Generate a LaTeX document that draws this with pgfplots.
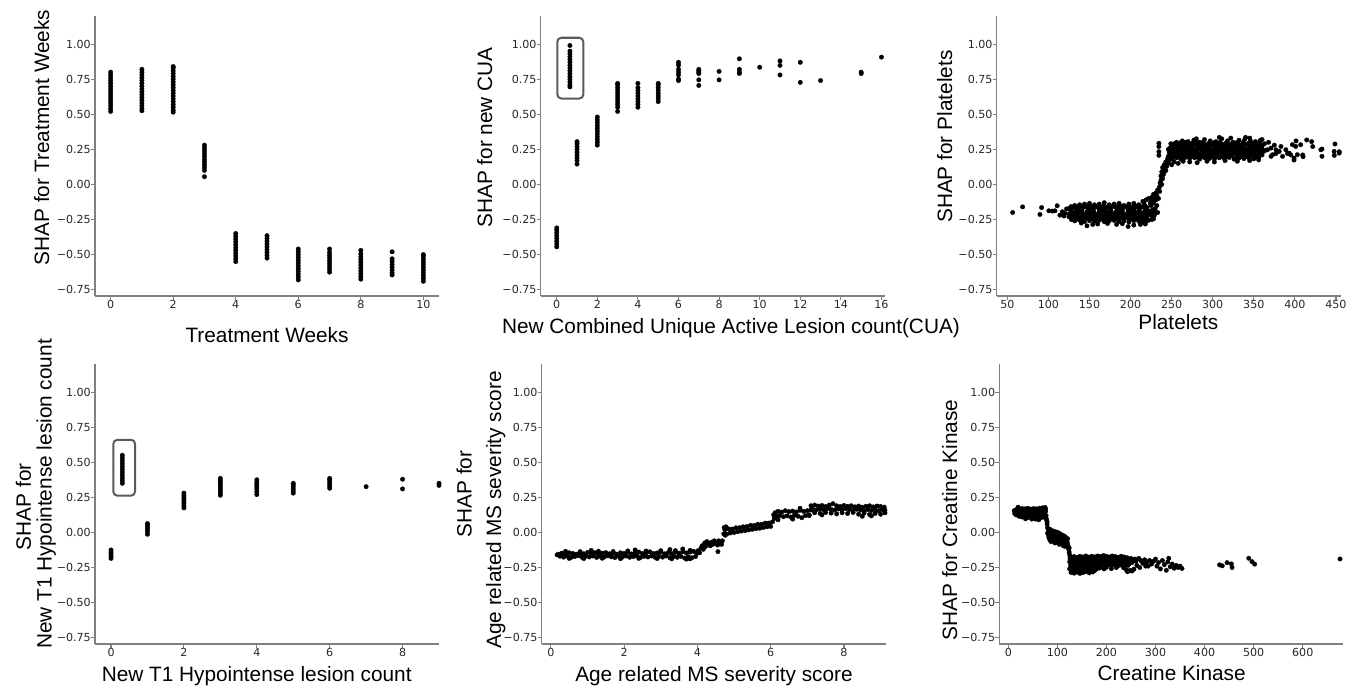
\documentclass[border=0pt]{standalone}
\usepackage{fontspec}
\setmainfont{Liberation Sans}
\newfontfamily\tickfont{DejaVu Sans}
\usepackage{pgfplots}
\pgfplotsset{compat=1.18}
\definecolor{spine}{RGB}{128,128,128}
\definecolor{boxc}{RGB}{90,90,90}
\definecolor{tickc}{RGB}{40,40,40}
\newcommand\labfont{\fontsize{20.8}{21}\selectfont}
\pgfplotsset{
  shap/.style={
    scale only axis, width=344pt, height=280pt, anchor=south west,
    axis x line*=bottom, axis y line*=left,
    axis line style={draw=spine, line width=1.2pt},
    tick style={draw=spine, line width=1.1pt},
    tick align=outside, major tick length=4pt,
    ymin=-0.795, ymax=1.2,
    ytick={-0.75,-0.5,-0.25,0,0.25,0.5,0.75,1},
    yticklabels={−0.75,−0.50,−0.25,0.00,0.25,0.50,0.75,1.00},
    ticklabel style={font=\tickfont\fontsize{11.1}{12}\selectfont, text=tickc},
    xticklabel style={anchor=north, inner sep=0pt},
    yticklabel style={anchor=east, inner sep=0pt},
  },
  dots/.style={only marks, mark=*, mark size=2.25pt, black, mark options={line width=0.3pt}},
}
\begin{document}
\begin{tikzpicture}
\useasboundingbox (0pt,0pt) rectangle (1348pt,686pt);
% Panel 1
\begin{axis}[shap, at={(95pt,390pt)}, xmin=-0.5, xmax=10.5,
  xtick={0,2,4,6,8,10}, xticklabels={0,2,4,6,8,10}]
\addplot[dots] coordinates {
(0,0.52)(0,0.54)(0,0.56)(0,0.58)(0,0.60)(0,0.62)(0,0.64)(0,0.66)(0,0.68)(0,0.70)(0,0.72)(0,0.74)(0,0.76)(0,0.78)(0,0.80)
(1,0.525)(1,0.54)(1,0.56)(1,0.58)(1,0.60)(1,0.62)(1,0.64)(1,0.66)(1,0.68)(1,0.70)(1,0.72)(1,0.74)(1,0.76)(1,0.78)(1,0.80)(1,0.82)
(2,0.515)(2,0.53)(2,0.55)(2,0.57)(2,0.59)(2,0.61)(2,0.63)(2,0.65)(2,0.67)(2,0.69)(2,0.71)(2,0.73)(2,0.75)(2,0.77)(2,0.79)(2,0.81)(2,0.83)(2,0.84)
(3,0.055)(3,0.10)(3,0.12)(3,0.14)(3,0.16)(3,0.18)(3,0.20)(3,0.22)(3,0.24)(3,0.26)(3,0.28)
(4,-0.55)(4,-0.53)(4,-0.51)(4,-0.49)(4,-0.47)(4,-0.45)(4,-0.43)(4,-0.41)(4,-0.39)(4,-0.37)(4,-0.35)
(5,-0.525)(5,-0.505)(5,-0.485)(5,-0.465)(5,-0.445)(5,-0.425)(5,-0.405)(5,-0.385)(5,-0.365)
(6,-0.68)(6,-0.66)(6,-0.64)(6,-0.62)(6,-0.60)(6,-0.58)(6,-0.56)(6,-0.54)(6,-0.52)(6,-0.50)(6,-0.48)(6,-0.46)
(7,-0.625)(7,-0.605)(7,-0.585)(7,-0.565)(7,-0.545)(7,-0.525)(7,-0.505)(7,-0.485)(7,-0.46)
(8,-0.675)(8,-0.655)(8,-0.635)(8,-0.615)(8,-0.595)(8,-0.575)(8,-0.555)(8,-0.535)(8,-0.515)(8,-0.495)(8,-0.47)
(9,-0.48)(9,-0.53)(9,-0.55)(9,-0.57)(9,-0.59)(9,-0.61)(9,-0.63)(9,-0.645)
(10,-0.69)(10,-0.67)(10,-0.65)(10,-0.63)(10,-0.61)(10,-0.59)(10,-0.57)(10,-0.55)(10,-0.53)(10,-0.51)(10,-0.50)
};
\end{axis}
% Panel 2
\begin{axis}[shap, at={(540.7pt,390pt)}, xmin=-0.79, xmax=16.16,
  xtick={0,2,4,6,8,10,12,14,16}, xticklabels={0,2,4,6,8,10,12,14,16}]
\addplot[dots] coordinates {
(0,-0.445)(0,-0.425)(0,-0.405)(0,-0.385)(0,-0.365)(0,-0.345)(0,-0.325)(0,-0.31)
(0.65,0.99)(0.65,0.95)(0.65,0.93)(0.65,0.91)(0.65,0.89)(0.65,0.87)(0.65,0.85)(0.65,0.83)(0.65,0.81)(0.65,0.79)(0.65,0.77)(0.65,0.75)(0.65,0.73)(0.65,0.71)(0.65,0.695)
(1,0.305)(1,0.29)(1,0.27)(1,0.25)(1,0.23)(1,0.21)(1,0.19)(1,0.17)(1,0.145)
(2,0.28)(2,0.30)(2,0.32)(2,0.34)(2,0.36)(2,0.38)(2,0.40)(2,0.42)(2,0.44)(2,0.46)(2,0.48)
(3,0.52)(3,0.55)(3,0.57)(3,0.59)(3,0.61)(3,0.63)(3,0.65)(3,0.67)(3,0.69)(3,0.71)(3,0.72)
(4,0.55)(4,0.57)(4,0.59)(4,0.61)(4,0.63)(4,0.65)(4,0.67)(4,0.69)(4,0.72)
(5,0.59)(5,0.61)(5,0.63)(5,0.65)(5,0.67)(5,0.69)(5,0.71)(5,0.72)
(6,0.74)(6,0.75)(6,0.78)(6,0.80)(6,0.82)(6,0.85)(6,0.87)
(7,0.705)(7,0.745)(7,0.79)(7,0.80)(7,0.81)(7,0.82)
(8,0.745)(8,0.805)
(9,0.79)(9,0.80)(9,0.82)(9,0.895)
(10,0.835)
(11,0.78)(11,0.848)(11,0.88)
(12,0.727)(12,0.87)
(13,0.74)
(15,0.79)(15,0.80)
(16,0.907)
};
\draw[boxc, line width=2pt, rounded corners=4pt] (axis cs:0.03,0.612) rectangle (axis cs:1.31,1.045);
\end{axis}
% Panel 3
\begin{axis}[shap, at={(996.7pt,390pt)}, xmin=37.1, xmax=455.8,
  xtick={50,100,150,200,250,300,350,400,450}, xticklabels={50,100,150,200,250,300,350,400,450}]
\addplot[dots] coordinates {
(56.5,-0.200)(68.6,-0.160)(89.7,-0.214)(91.7,-0.165)(100.6,-0.188)(105,-0.19)(108,-0.188)(110.7,-0.152)(114,-0.219)(117,-0.195)(120,-0.205)(122,-0.175)(119,-0.225)
(132,-0.15)(138,-0.145)(144,-0.14)(150,-0.135)(156,-0.145)(162,-0.14)(168,-0.13)(174,-0.145)(180,-0.14)(186,-0.135)(192,-0.15)(198,-0.14)(204,-0.135)(210,-0.145)(216,-0.13)
(127.5,-0.158)(132.5,-0.16)(137.5,-0.157)(142.5,-0.16)(147.5,-0.155)(152.5,-0.16)(157.5,-0.156)(162.5,-0.16)(167.5,-0.155)(172.5,-0.16)(177.5,-0.156)(182.5,-0.16)(187.5,-0.155)(192.5,-0.16)(197.5,-0.156)(202.5,-0.16)(207.5,-0.155)(212.5,-0.16)(217.5,-0.15)
(125,-0.172)(130,-0.165)(135,-0.178)(140,-0.168)(145,-0.16)(150,-0.175)(155,-0.17)(160,-0.163)(165,-0.18)(170,-0.167)(175,-0.172)(180,-0.158)(185,-0.176)(190,-0.169)(195,-0.162)(200,-0.174)(205,-0.166)(210,-0.171)(215,-0.16)(220,-0.165)(225,-0.15)
(128,-0.187)(134,-0.19)(141,-0.185)(148,-0.188)(155,-0.19)(162,-0.183)(169,-0.19)(176,-0.186)(183,-0.19)(190,-0.184)(197,-0.188)(204,-0.19)(211,-0.186)(218,-0.18)(224,-0.19)
(127,-0.2)(132,-0.205)(137,-0.195)(142,-0.208)(147,-0.198)(152,-0.202)(157,-0.21)(162,-0.196)(167,-0.205)(172,-0.2)(177,-0.208)(182,-0.195)(187,-0.203)(192,-0.21)(197,-0.198)(202,-0.205)(207,-0.2)(212,-0.207)(217,-0.195)(222,-0.19)(227,-0.18)
(125,-0.212)(130,-0.21)(135,-0.213)(140,-0.21)(145,-0.213)(150,-0.21)(155,-0.213)(160,-0.21)(165,-0.213)(170,-0.21)(175,-0.213)(180,-0.21)(185,-0.213)(190,-0.21)(195,-0.213)(200,-0.21)(205,-0.213)(210,-0.21)(215,-0.213)(220,-0.205)(225,-0.2)
(128,-0.218)(135,-0.215)(142,-0.222)(149,-0.216)(156,-0.22)(163,-0.214)(170,-0.222)(177,-0.218)(184,-0.215)(191,-0.222)(198,-0.217)(205,-0.22)(212,-0.215)(219,-0.21)(226,-0.205)
(125,-0.23)(130,-0.235)(135,-0.228)(140,-0.238)(145,-0.232)(150,-0.226)(155,-0.236)(160,-0.23)(165,-0.24)(170,-0.233)(175,-0.227)(180,-0.237)(185,-0.231)(190,-0.24)(195,-0.228)(200,-0.235)(205,-0.23)(210,-0.238)(215,-0.233)(220,-0.225)(225,-0.22)(230,-0.2)
(132.5,-0.242)(137.5,-0.24)(142.5,-0.243)(147.5,-0.24)(152.5,-0.243)(157.5,-0.24)(162.5,-0.243)(167.5,-0.24)(172.5,-0.243)(177.5,-0.24)(182.5,-0.243)(187.5,-0.24)(192.5,-0.243)(197.5,-0.24)(202.5,-0.243)(207.5,-0.24)(212.5,-0.243)(217.5,-0.24)
(129,-0.248)(136,-0.245)(143,-0.25)(150,-0.244)(157,-0.25)(164,-0.246)(171,-0.25)(178,-0.245)(185,-0.25)(192,-0.246)(199,-0.25)(206,-0.245)(213,-0.25)(220,-0.242)
(132,-0.26)(138,-0.255)(144,-0.265)(150,-0.258)(156,-0.262)(162,-0.255)(168,-0.265)(174,-0.26)(180,-0.256)(186,-0.264)(192,-0.26)(198,-0.268)(204,-0.258)(210,-0.262)(216,-0.27)(222,-0.255)(228,-0.245)
(147,-0.295)(160,-0.282)(172,-0.278)(183,-0.285)(190,-0.28)(197,-0.3)(204,-0.29)(212,-0.285)(218,-0.282)(140,-0.275)(128,-0.25)(154,-0.285)
(215,-0.12)(219,-0.11)(222,-0.1)(225,-0.12)(226,-0.09)(228,-0.07)(229,-0.1)(231,-0.06)(232,-0.08)(233,-0.04)(224,-0.135)(228,-0.13)(231,-0.11)(234,-0.1)(232,-0.15)(230,-0.17)(233,-0.2)(229,-0.22)(226,-0.25)(219,-0.26)
(235,-0.02)(236,0.01)(235.5,-0.05)(237,0.03)(237,0.06)(238,0.0)(238,0.09)(239,0.04)(239,0.12)(240,0.07)(240,0.10)(241,0.14)(241,0.09)(242,0.12)(243,0.16)(243,0.10)(244,0.13)(245,0.18)(245,0.15)(246,0.2)(247,0.17)(247,0.23)(248,0.2)(248,0.26)(249,0.29)(246,0.25)
(234.5,0.293)(234.5,0.27)(234.5,0.233)(234.5,0.207)
(256,0.3)(263,0.31)(270,0.305)(277,0.315)(284,0.3)(290,0.32)(297,0.31)(304,0.305)(311,0.325)(318,0.31)(325,0.3)(332,0.315)(339,0.32)(346,0.31)(352,0.305)(358,0.315)
(308,0.335)(322,0.33)(340,0.335)(345,0.33)(280,0.325)
(253,0.29)(260,0.295)(267,0.3)(274,0.29)(281,0.298)(288,0.3)(295,0.293)(302,0.298)(309,0.3)(316,0.295)(323,0.29)(330,0.3)(337,0.298)(344,0.295)(351,0.292)(357,0.3)
(252.5,0.285)(257.5,0.288)(262.5,0.283)(267.5,0.29)(272.5,0.284)(277.5,0.288)(282.5,0.285)(287.5,0.29)(292.5,0.283)(297.5,0.288)(302.5,0.285)(307.5,0.29)(312.5,0.284)(317.5,0.288)(322.5,0.285)(327.5,0.29)(332.5,0.283)(337.5,0.288)(342.5,0.285)(347.5,0.29)(352.5,0.283)(357.5,0.285)
(250,0.27)(255,0.28)(260,0.275)(265,0.285)(270,0.27)(275,0.28)(280,0.275)(285,0.27)(290,0.285)(295,0.275)(300,0.28)(305,0.27)(310,0.285)(315,0.275)(320,0.28)(325,0.27)(330,0.282)(335,0.276)(340,0.285)(345,0.27)(350,0.278)(355,0.265)(360,0.27)
(253,0.26)(260,0.262)(267,0.258)(274,0.265)(281,0.26)(288,0.262)(295,0.258)(302,0.265)(309,0.26)(316,0.262)(323,0.258)(330,0.265)(337,0.26)(344,0.262)(351,0.258)(358,0.255)
(250,0.252)(255,0.255)(260,0.25)(265,0.256)(270,0.252)(275,0.255)(280,0.25)(285,0.256)(290,0.252)(295,0.255)(300,0.25)(305,0.256)(310,0.252)(315,0.255)(320,0.25)(325,0.256)(330,0.252)(335,0.255)(340,0.25)(345,0.256)(350,0.252)(355,0.25)(360,0.248)
(252,0.245)(257,0.25)(262,0.24)(267,0.252)(272,0.245)(277,0.238)(282,0.25)(287,0.244)(292,0.255)(297,0.24)(302,0.248)(307,0.243)(312,0.252)(317,0.24)(322,0.246)(327,0.25)(332,0.238)(337,0.248)(342,0.243)(347,0.25)(352,0.24)(357,0.245)(362,0.235)
(253,0.23)(260,0.228)(267,0.232)(274,0.228)(281,0.233)(288,0.228)(295,0.23)(302,0.233)(309,0.228)(316,0.232)(323,0.23)(330,0.228)(337,0.232)(344,0.23)(351,0.228)(358,0.225)
(252.5,0.222)(257.5,0.225)(262.5,0.22)(267.5,0.226)(272.5,0.222)(277.5,0.225)(282.5,0.22)(287.5,0.226)(292.5,0.222)(297.5,0.225)(302.5,0.22)(307.5,0.226)(312.5,0.222)(317.5,0.225)(322.5,0.22)(327.5,0.226)(332.5,0.222)(337.5,0.225)(342.5,0.22)(347.5,0.226)(352.5,0.222)(357.5,0.22)
(250,0.215)(255,0.22)(260,0.212)(265,0.222)(270,0.215)(275,0.21)(280,0.22)(285,0.213)(290,0.222)(295,0.21)(300,0.218)(305,0.214)(310,0.222)(315,0.21)(320,0.216)(325,0.22)(330,0.212)(335,0.218)(340,0.21)(345,0.22)(350,0.215)(355,0.208)(360,0.21)
(254,0.2)(261,0.2)(268,0.203)(276,0.2)(287,0.2)(299,0.202)(311,0.2)(323,0.205)(335,0.2)(347,0.203)
(253,0.195)(258,0.198)(263,0.195)(270,0.198)(281,0.196)(293,0.198)(305,0.196)(317,0.198)(329,0.196)(341,0.198)(353,0.196)
(251,0.185)(256,0.19)(261,0.182)(266,0.19)(272,0.185)(278,0.19)(284,0.18)(290,0.19)(296,0.185)(302,0.182)(308,0.19)(314,0.185)(320,0.192)(326,0.18)(332,0.188)(338,0.184)(344,0.19)(350,0.182)(356,0.19)
(253,0.16)(258,0.15)(264,0.165)(272,0.16)(281,0.155)(293,0.165)(302,0.16)(315,0.17)(330,0.165)(345,0.17)(356,0.175)(250,0.14)
(365,0.245)(366.8,0.247)(370.9,0.259)(371,0.2)(372.9,0.212)(377,0.247)(377,0.22)(381,0.235)(385,0.2)(389,0.247)(391,0.22)(393,0.223)(395,0.21)(397,0.283)(399,0.174)(399,0.188)(401,0.271)(401.4,0.31)(403,0.212)(407,0.283)(409.5,0.21)(410,0.198)(414.4,0.317)(420.4,0.305)(421.7,0.27)(431.6,0.247)(433,0.2)(433,0.252)(447.8,0.235)(448,0.207)(448.8,0.288)(454,0.223)(454,0.233)(363,0.29)(368,0.3)(375,0.28)(383,0.27)(360,0.32)
};
\end{axis}
% Panel 4
\begin{axis}[shap, at={(95pt,42pt)}, xmin=-0.44, xmax=9.0,
  xtick={0,2,4,6,8}, xticklabels={0,2,4,6,8}]
\addplot[dots] coordinates {
(0,-0.185)(0,-0.17)(0,-0.155)(0,-0.14)(0,-0.125)
(0.31,0.35)(0.31,0.37)(0.31,0.39)(0.31,0.41)(0.31,0.43)(0.31,0.45)(0.31,0.47)(0.31,0.49)(0.31,0.51)(0.31,0.53)(0.31,0.55)
(1,-0.013)(1,0.005)(1,0.02)(1,0.035)(1,0.05)(1,0.063)
(2,0.175)(2,0.19)(2,0.205)(2,0.22)(2,0.235)(2,0.25)(2,0.265)(2,0.28)
(3,0.265)(3,0.28)(3,0.295)(3,0.31)(3,0.325)(3,0.34)(3,0.355)(3,0.37)(3,0.385)
(4,0.27)(4,0.29)(4,0.31)(4,0.325)(4,0.34)(4,0.355)(4,0.375)
(5,0.28)(5,0.295)(5,0.31)(5,0.325)(5,0.34)(5,0.35)
(6,0.315)(6,0.33)(6,0.345)(6,0.36)(6,0.375)(6,0.385)
(7,0.326)
(8,0.31)(8,0.379)
(9,0.335)(9,0.35)
};
\draw[boxc, line width=2pt, rounded corners=4pt] (axis cs:0.063,0.262) rectangle (axis cs:0.658,0.66);
\end{axis}
% Panel 5
\begin{axis}[shap, at={(541.7pt,42pt)}, xmin=-0.25, xmax=9.14,
  xtick={0,2,4,6,8}, xticklabels={0,2,4,6,8}]
\addplot[dots] coordinates {
(0.2,-0.155)(0.3,-0.148)(0.4,-0.152)(0.5,-0.145)(0.6,-0.15)(0.7,-0.155)(0.8,-0.147)(0.9,-0.152)(1.0,-0.143)(1.1,-0.15)(1.2,-0.145)(1.3,-0.153)(1.4,-0.148)(1.5,-0.144)(1.6,-0.152)(1.7,-0.147)(1.8,-0.155)(1.9,-0.145)(2.0,-0.15)(2.1,-0.142)(2.2,-0.153)(2.3,-0.147)(2.4,-0.14)(2.5,-0.15)(2.6,-0.145)(2.7,-0.138)(2.8,-0.15)(2.9,-0.146)(3.0,-0.14)(3.1,-0.152)(3.2,-0.144)(3.3,-0.15)(3.4,-0.142)(3.5,-0.148)(3.6,-0.138)(3.7,-0.146)(3.8,-0.14)(3.9,-0.135)
(0.25,-0.17)(0.35,-0.176)(0.45,-0.168)(0.55,-0.178)(0.65,-0.172)(0.75,-0.166)(0.85,-0.177)(0.95,-0.17)(1.05,-0.175)(1.15,-0.168)(1.25,-0.178)(1.35,-0.171)(1.45,-0.176)(1.55,-0.167)(1.65,-0.174)(1.75,-0.179)(1.85,-0.17)(1.95,-0.176)(2.05,-0.168)(2.15,-0.177)(2.25,-0.172)(2.35,-0.166)(2.45,-0.178)(2.55,-0.17)(2.65,-0.175)(2.75,-0.168)(2.85,-0.178)(2.95,-0.171)(3.05,-0.176)(3.15,-0.168)(3.25,-0.18)(3.35,-0.172)(3.45,-0.177)(3.55,-0.17)(3.65,-0.182)(3.75,-0.174)(3.85,-0.18)(3.95,-0.172)
(0.4,-0.135)(0.8,-0.137)(1.3,-0.134)(1.7,-0.136)(2.1,-0.132)(2.6,-0.133)(3.0,-0.13)(3.4,-0.13)(3.8,-0.128)
(0.5,-0.185)(0.9,-0.186)(1.4,-0.184)(1.9,-0.187)(2.4,-0.185)(2.9,-0.186)(3.3,-0.188)(3.8,-0.188)
(0.17,-0.16)(1.1,-0.128)(2.3,-0.125)(3.25,-0.122)(3.6,-0.118)(3.7,-0.19)
(3.98,-0.15)(4.02,-0.13)(4.06,-0.145)(4.1,-0.11)(4.13,-0.095)(4.16,-0.12)(4.2,-0.075)(4.22,-0.1)(4.26,-0.065)(4.3,-0.08)(4.35,-0.095)(4.38,-0.07)(4.42,-0.085)(4.46,-0.06)(4.5,-0.075)(4.55,-0.09)(4.58,-0.06)(4.62,-0.075)(4.66,-0.085)(4.68,-0.06)(4.56,-0.137)
(4.75,0.02)(4.85,0.025)(4.95,0.024)(5.05,0.033)(5.15,0.034)(5.25,0.04)(5.35,0.042)(5.45,0.05)(5.55,0.05)(5.65,0.058)(5.75,0.058)(5.85,0.066)(5.95,0.067)(6.05,0.075)
(4.72,-0.01)(4.8,-0.012)(4.9,-0.004)(5.0,0.0)(5.1,0.005)(5.2,0.01)(5.3,0.013)(5.4,0.018)(5.5,0.022)(5.6,0.027)(5.7,0.03)(5.8,0.035)(5.9,0.04)(6.0,0.043)
(4.73,0.035)(4.78,0.04)(4.76,-0.02)
(6.08,0.125)(6.12,0.14)(6.2,0.15)(6.3,0.145)(6.4,0.155)(6.5,0.148)(6.6,0.152)(6.7,0.145)(6.8,0.158)(6.9,0.15)(7.0,0.155)(7.1,0.16)
(6.1,0.1)(6.16,0.115)(6.25,0.12)(6.35,0.112)(6.45,0.118)(6.55,0.11)(6.65,0.122)(6.75,0.115)(6.85,0.105)(6.95,0.12)(7.05,0.125)
(6.2,0.09)(6.6,0.095)(6.8,0.172)
(7.1,0.19)(7.2,0.195)(7.3,0.188)(7.4,0.192)(7.5,0.185)(7.6,0.195)(7.7,0.205)(7.8,0.19)(7.9,0.185)(8.0,0.192)(8.1,0.186)(8.2,0.19)(8.3,0.182)(8.4,0.188)(8.5,0.18)(8.6,0.186)(8.7,0.19)(8.8,0.182)(8.9,0.188)(9.0,0.185)(9.1,0.18)
(7.15,0.165)(7.25,0.16)(7.35,0.168)(7.45,0.162)(7.55,0.17)(7.65,0.165)(7.75,0.16)(7.85,0.167)(7.95,0.162)(8.05,0.17)(8.15,0.163)(8.25,0.158)(8.35,0.165)(8.45,0.16)(8.55,0.155)(8.65,0.162)(8.75,0.157)(8.85,0.16)(8.95,0.155)(9.05,0.162)(9.12,0.158)
(7.2,0.14)(7.35,0.135)(7.5,0.142)(7.65,0.138)(7.8,0.132)(7.95,0.14)(8.1,0.135)(8.25,0.142)(8.4,0.13)(8.55,0.138)(8.7,0.128)(8.85,0.135)(9.0,0.13)(9.12,0.14)
(7.05,0.12)(8.5,0.115)(8.75,0.118)(7.4,0.125)
};
\end{axis}
% Panel 6
\begin{axis}[shap, at={(999.3pt,42pt)}, xmin=-18.3, xmax=682.7,
  xtick={0,100,200,300,400,500,600}, xticklabels={0,100,200,300,400,500,600}]
\addplot[dots] coordinates {
(22,0.165)(28,0.17)(34,0.168)(40,0.172)(46,0.166)(52,0.17)(58,0.168)(64,0.172)(70,0.175)(75,0.178)
(17,0.15)(23,0.155)(29,0.155)(35,0.153)(41,0.157)(47,0.153)(53,0.156)(59,0.154)(65,0.157)(71,0.16)(76,0.165)
(14,0.15)(19,0.145)(25,0.14)(31,0.145)(37,0.138)(43,0.143)(49,0.14)(55,0.146)(61,0.138)(67,0.144)(73,0.15)
(19,0.125)(25,0.128)(31,0.13)(37,0.125)(43,0.128)(49,0.125)(55,0.128)(61,0.124)(67,0.126)(73,0.13)
(16,0.125)(22,0.115)(28,0.11)(34,0.118)(40,0.105)(46,0.112)(52,0.104)(58,0.11)(64,0.1)(70,0.108)(75,0.12)
(12,0.155)(13,0.135)(17,0.165)(20,0.18)(56,0.095)(62,0.09)(48,0.095)(35,0.097)
(76,0.15)(77,0.12)(78,0.09)(79,0.06)(80,0.035)(77,0.1)(79,0.075)
(81,0.025)(86,0.02)(91,0.01)(96,0.005)(101,0.0)(106,-0.01)(111,-0.02)(116,-0.03)(121,-0.045)
(83,0.01)(88,0.005)(93,-0.005)(98,-0.01)(103,-0.015)(108,-0.022)(113,-0.032)(118,-0.045)
(80,-0.005)(85,-0.01)(90,-0.02)(95,-0.025)(100,-0.03)(105,-0.035)(110,-0.045)(115,-0.055)(120,-0.07)
(82,-0.022)(87,-0.028)(92,-0.037)(97,-0.042)(102,-0.048)(107,-0.052)(112,-0.062)(117,-0.072)(121,-0.085)
(83,-0.04)(88,-0.045)(93,-0.055)(98,-0.06)(103,-0.065)(108,-0.07)(113,-0.08)(118,-0.09)(122,-0.1)
(85,-0.055)(91,-0.062)(100,-0.072)(108,-0.08)(116,-0.1)
(87,-0.065)(95,-0.075)(104,-0.085)(112,-0.095)
(123,-0.12)(124,-0.14)(125,-0.16)(124,-0.11)(126,-0.18)
(128,-0.18)(134,-0.172)(140,-0.178)(146,-0.17)(152,-0.175)(158,-0.168)(164,-0.176)(170,-0.17)(176,-0.174)(182,-0.168)(188,-0.172)(194,-0.165)(200,-0.17)(206,-0.175)(212,-0.168)(218,-0.172)(224,-0.178)(230,-0.17)(236,-0.175)(242,-0.18)(250,-0.185)(258,-0.19)(266,-0.185)
(126,-0.19)(132,-0.188)(138,-0.192)(144,-0.186)(150,-0.19)(156,-0.187)(162,-0.192)(168,-0.186)(174,-0.19)(180,-0.186)(186,-0.19)(192,-0.185)(198,-0.19)(204,-0.187)(210,-0.19)(216,-0.186)(222,-0.19)(228,-0.187)(234,-0.19)(240,-0.192)(247,-0.195)(255,-0.2)
(125,-0.21)(131,-0.2)(137,-0.207)(143,-0.2)(149,-0.21)(155,-0.203)(161,-0.208)(167,-0.2)(173,-0.207)(179,-0.2)(185,-0.21)(191,-0.2)(197,-0.206)(203,-0.198)(209,-0.205)(215,-0.21)(221,-0.2)(227,-0.207)(233,-0.215)(239,-0.205)(245,-0.21)(252,-0.215)(260,-0.205)
(129,-0.22)(135,-0.222)(141,-0.218)(147,-0.223)(153,-0.218)(159,-0.222)(165,-0.218)(171,-0.222)(177,-0.217)(183,-0.222)(189,-0.218)(195,-0.215)(201,-0.22)(207,-0.217)(213,-0.222)(219,-0.216)(225,-0.222)(231,-0.22)(238,-0.222)(246,-0.225)
(127,-0.235)(133,-0.24)(139,-0.232)(145,-0.238)(151,-0.23)(157,-0.24)(163,-0.233)(169,-0.238)(175,-0.23)(181,-0.24)(187,-0.234)(193,-0.228)(199,-0.236)(205,-0.23)(211,-0.235)(217,-0.228)(223,-0.24)(229,-0.232)(236,-0.24)(244,-0.235)
(128,-0.25)(134,-0.252)(140,-0.248)(146,-0.253)(152,-0.247)(158,-0.252)(164,-0.248)(170,-0.252)(176,-0.246)(182,-0.25)(188,-0.248)(200,-0.248)(220,-0.25)(235,-0.252)
(125,-0.26)(131,-0.265)(137,-0.258)(143,-0.266)(149,-0.26)(155,-0.268)(161,-0.26)(167,-0.265)(173,-0.258)(179,-0.262)(185,-0.255)(195,-0.26)(210,-0.258)(240,-0.265)(248,-0.27)(256,-0.262)
(131,-0.275)(137,-0.272)(143,-0.278)(149,-0.274)(155,-0.278)(161,-0.273)(168,-0.276)(176,-0.272)
(128,-0.285)(134,-0.29)(140,-0.283)(146,-0.292)(152,-0.286)(158,-0.28)(165,-0.288)(172,-0.282)(243,-0.28)(252,-0.275)
(270,-0.2)(274,-0.22)(278,-0.195)(282,-0.21)(285,-0.24)(288,-0.2)(292,-0.225)(296,-0.205)(300,-0.19)(303,-0.24)(306,-0.215)(310,-0.26)(314,-0.2)(318,-0.23)(322,-0.27)(325,-0.21)(327,-0.184)(330,-0.245)(334,-0.225)(338,-0.255)(342,-0.235)(346,-0.25)(350,-0.24)(354,-0.257)(280,-0.24)(262,-0.235)(268,-0.25)
(430.5,-0.231)(436,-0.238)(445.8,-0.215)(454.6,-0.224)(456,-0.25)(490,-0.184)(496.6,-0.208)(502,-0.226)(676,-0.189)
};
\end{axis}
% axis titles
\node[rotate=90, anchor=base, font=\labfont] at (49pt,548.5pt) {SHAP for Treatment Weeks};
\node[anchor=base, font=\labfont] at (267pt,343pt) {Treatment Weeks};
\node[rotate=90, anchor=base, font=\labfont] at (492pt,548.5pt) {SHAP for new CUA};
\node[anchor=base, font=\labfont] at (731pt,352.7pt) {New Combined Unique Active Lesion count(CUA)};
\node[rotate=90, anchor=base, font=\labfont] at (952pt,549.3pt) {SHAP for Platelets};
\node[anchor=base, font=\labfont] at (1178.3pt,356.5pt) {Platelets};
\node[rotate=90, anchor=base, font=\labfont] at (31pt,179.3pt) {SHAP for};
\node[rotate=90, anchor=base, font=\labfont] at (51.5pt,192pt) {New T1 Hypointense lesion count};
\node[anchor=base, font=\labfont] at (256.7pt,4.5pt) {New T1 Hypointense lesion count};
\node[rotate=90, anchor=base, font=\labfont] at (471.7pt,192pt) {SHAP for};
\node[rotate=90, anchor=base, font=\labfont] at (501pt,176pt) {Age related MS severity score};
\node[anchor=base, font=\labfont] at (714pt,4.5pt) {Age related MS severity score};
\node[rotate=90, anchor=base, font=\labfont] at (957pt,166pt) {SHAP for Creatine Kinase};
\node[anchor=base, font=\labfont] at (1171.7pt,5.3pt) {Creatine Kinase};
\end{tikzpicture}
\end{document}
